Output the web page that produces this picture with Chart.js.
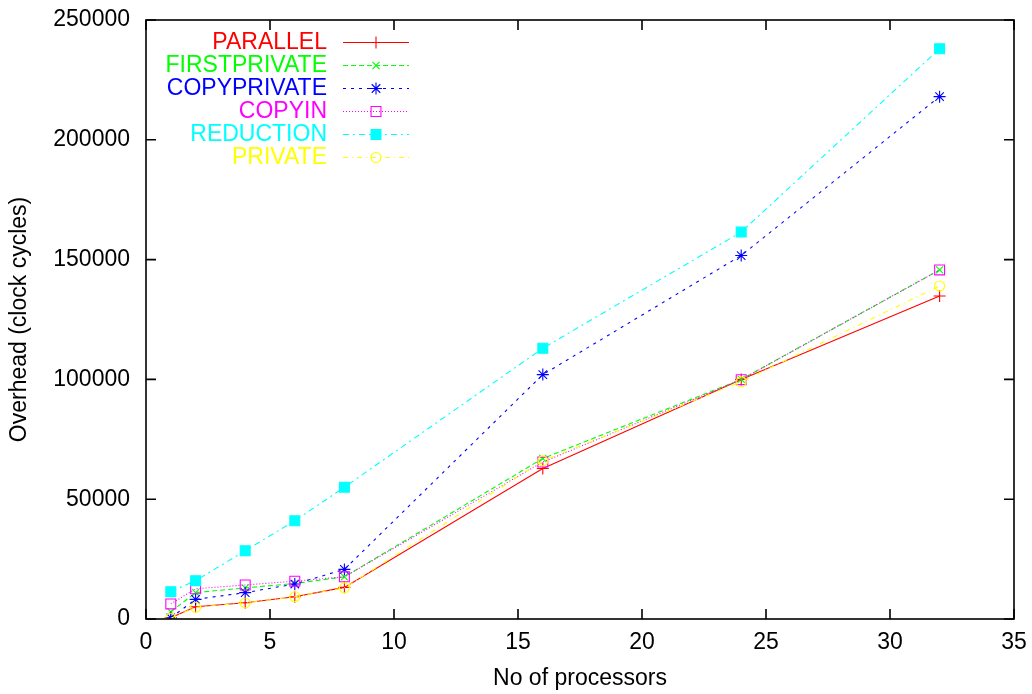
<!DOCTYPE html>
<html>
<head>
<meta charset="utf-8">
<script src="https://cdn.jsdelivr.net/npm/chart.js@4/dist/chart.umd.min.js"></script>
<style>
  html, body { margin: 0; padding: 0; background: #fff; }
  #c { display: block; }
</style>
</head>
<body>
<canvas id="c" width="1032" height="694"></canvas>
<script>
const procs = [1, 2, 4, 6, 8, 16, 24, 32];
const parallel     = [500, 5100, 6800, 9300, 13200, 62800, 100000, 134800];
const firstprivate = [3000, 11000, 13000, 14800, 17600, 67000, 100000, 145700];
const copyprivate  = [500, 8200, 11000, 14600, 20700, 102000, 151700, 218000];
const copyin       = [6300, 12600, 14200, 15800, 17600, 65500, 99900, 145700];
const reduction    = [11400, 16000, 28500, 41000, 55000, 113000, 161500, 238000];
const privateVals  = [300, 4900, 6700, 9300, 13000, 66000, 99000, 139000];
const xTicks = [0, 5, 10, 15, 20, 25, 30, 35];
const yTicks = [0, 50000, 100000, 150000, 200000, 250000];

const FONT = 'Liberation Sans, Arial, Helvetica, sans-serif';

function pts(vals) {
    return procs.map((p, i) => ({x: p, y: vals[i]}));
}

function series(label, vals, color, dash, style, radius, fill) {
    return {
        label: label,
        data: pts(vals),
        borderColor: color,
        borderWidth: 1.1,
        borderDash: dash,
        pointStyle: style,
        pointRadius: radius,
        pointBorderColor: color,
        pointBackgroundColor: fill ? color : 'rgba(0,0,0,0)',
        pointBorderWidth: 1.1,
        fill: false,
        tension: 0
    };
}

const datasets = [
    series('PARALLEL', parallel, '#ff0000', [], 'cross', 6, false),
    series('FIRSTPRIVATE', firstprivate, '#00ff00', [5, 3], 'crossRot', 5, false),
    series('COPYPRIVATE', copyprivate, '#0000ff', [3, 5], 'star', 6, false),
    series('COPYIN', copyin, '#ff00ff', [1, 2], 'rect', 7, false),
    series('REDUCTION', reduction, '#00ffff', [6, 4, 2, 4], 'rect', 7, true),
    series('PRIVATE', privateVals, '#ffff00', [5, 4, 1, 4], 'circle', 5, false)
];
// later series on top, like gnuplot
datasets.forEach((d, i) => { d.order = datasets.length - i; });

// gnuplot style frame with inward ticks on all sides
const framePlugin = {
    id: 'frame',
    afterDatasetsDraw(chart) {
        const ctx = chart.ctx;
        const a = chart.chartArea;
        const xs = chart.scales.x, ys = chart.scales.y;
        ctx.save();
        ctx.strokeStyle = '#000';
        ctx.lineWidth = 1.6;
        ctx.beginPath();
        xTicks.forEach(v => {
            const px = xs.getPixelForValue(v);
            ctx.moveTo(px, a.bottom); ctx.lineTo(px, a.bottom - 10);
            ctx.moveTo(px, a.top); ctx.lineTo(px, a.top + 10);
        });
        yTicks.forEach(v => {
            const py = ys.getPixelForValue(v);
            ctx.moveTo(a.left, py); ctx.lineTo(a.left + 10, py);
            ctx.moveTo(a.right, py); ctx.lineTo(a.right - 10, py);
        });
        ctx.stroke();
        ctx.strokeRect(a.left, a.top, a.right - a.left, a.bottom - a.top);
        ctx.restore();
    },
    afterDraw(chart) {
        // legend: text right aligned, then line sample with marker
        const ctx = chart.ctx;
        ctx.save();
        ctx.font = '23px ' + FONT;
        ctx.textAlign = 'right';
        ctx.textBaseline = 'middle';
        chart.data.datasets.forEach((d, i) => {
            const y = 42 + i * 23;
            ctx.fillStyle = d.borderColor;
            ctx.fillText(d.label, 327, y + 1);
            ctx.strokeStyle = d.borderColor;
            ctx.lineWidth = 1.1;
            ctx.setLineDash(d.borderDash);
            ctx.beginPath();
            ctx.moveTo(343, y + 0.5);
            ctx.lineTo(409, y + 0.5);
            ctx.stroke();
            ctx.setLineDash([]);
            ctx.fillStyle = d.pointBackgroundColor;
            Chart.helpers.drawPoint(ctx, {
                pointStyle: d.pointStyle, radius: d.pointRadius, rotation: 0, borderWidth: 1.1
            }, 376, y + 0.5);
        });
        ctx.restore();
    }
};

new Chart(document.getElementById('c'), {
    type: 'line',
    data: {datasets: datasets},
    options: {
        responsive: false,
        animation: false,
        layout: {padding: {left: 0, right: 18, top: 20, bottom: 0}},
        plugins: {legend: {display: false}, tooltip: {enabled: false}},
        scales: {
            x: {
                type: 'linear',
                min: 0, max: 35,
                grid: {display: false, drawTicks: false},
                border: {display: false},
                ticks: {
                    stepSize: 5, padding: 10, color: '#000', maxRotation: 0,
                    font: {family: FONT, size: 23},
                    callback: v => String(v)
                },
                title: {
                    display: true, text: 'No of processors', color: '#000',
                    font: {family: FONT, size: 23}, padding: {top: 0, bottom: 2}
                },
                afterFit(s) { s.height = 75; s.paddingLeft = 0; s.paddingRight = 0; }
            },
            y: {
                type: 'linear',
                min: 0, max: 250000,
                grid: {display: false, drawTicks: false},
                border: {display: false},
                ticks: {
                    stepSize: 50000, padding: 16, color: '#000',
                    font: {family: FONT, size: 23},
                    callback: v => String(v)
                },
                title: {
                    display: true, text: 'Overhead (clock cycles)', color: '#000',
                    font: {family: FONT, size: 23}, padding: {top: 6, bottom: 0}
                },
                afterFit(s) { s.width = 146; s.paddingTop = 0; s.paddingBottom = 0; }
            }
        }
    },
    plugins: [framePlugin]
});
</script>
</body>
</html>
